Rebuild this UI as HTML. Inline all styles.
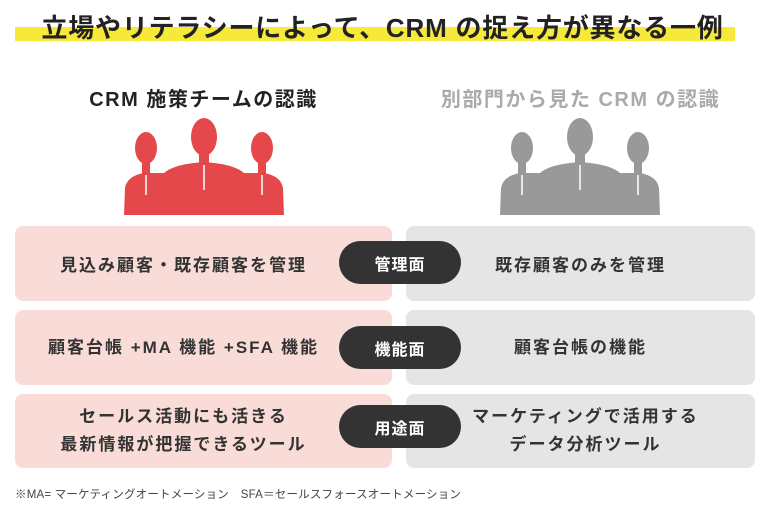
<!DOCTYPE html>
<html><head><meta charset="utf-8"><style>
body{margin:0;width:771px;height:507px;background:#fff;position:relative;overflow:hidden;font-family:"Liberation Sans","Noto Sans CJK JP",sans-serif;color:#333}
.a{position:absolute}
.box{position:absolute;border-radius:8px;display:flex;align-items:center;justify-content:center;text-align:center;font-weight:bold;font-size:17px;line-height:28px;letter-spacing:2px}
.l{left:15px;width:377px;background:#f9dcd7}
.r{left:406px;width:349px;background:#e5e5e5}
.pill{position:absolute;left:339px;width:122px;height:43px;border-radius:22px;background:#333;color:#fff;font-weight:bold;font-size:16px;display:flex;align-items:center;justify-content:center;letter-spacing:1px}
</style></head><body>
<div class="a" style="left:15px;top:27px;width:720px;height:14px;background:#f6e93a"></div>
<div class="a" style="left:0;width:765px;top:11px;text-align:center;font-size:26px;font-weight:bold;color:#222;line-height:34px;letter-spacing:0.8px">立場やリテラシーによって、CRM の捉え方が異なる一例</div>
<div class="a" style="left:15px;width:377px;top:83px;text-align:center;font-size:20px;font-weight:bold;color:#222;letter-spacing:1.5px">CRM 施策チームの認識</div>
<div class="a" style="left:406px;width:349px;top:83px;text-align:center;font-size:20px;font-weight:bold;color:#aaa;letter-spacing:1.5px">別部門から見た CRM の認識</div>
<svg class="a" style="left:0;top:0" width="771" height="230">
<defs><g id="p">
<ellipse cx="22" cy="30" rx="11" ry="16"/><ellipse cx="138" cy="30" rx="11" ry="16"/><ellipse cx="80" cy="19" rx="13" ry="19"/>
<rect x="18" y="40" width="8" height="20"/><rect x="134" y="40" width="8" height="20"/><rect x="75" y="30" width="10" height="25"/>
<path d="M0,97 L1,70 Q3,58 20,55 L40,55 Q50,46 80,44 Q110,46 120,55 L140,55 Q157,58 159,70 L160,97 Z"/>
</g></defs>
<g fill="#e5484a" transform="translate(124,118)"><use href="#p"/></g>
<g fill="#999" transform="translate(500,118)"><use href="#p"/></g>
<g stroke="#fff" stroke-width="1.5"><line x1="146" y1="175" x2="146" y2="195"/><line x1="204" y1="165" x2="204" y2="190"/><line x1="262" y1="175" x2="262" y2="195"/>
<line x1="522" y1="175" x2="522" y2="195"/><line x1="580" y1="165" x2="580" y2="190"/><line x1="638" y1="175" x2="638" y2="195"/></g>
</svg>
<div class="box l" style="top:226px;height:75px;padding-right:40px;padding-top:4px;box-sizing:border-box">見込み顧客・既存顧客を管理</div>
<div class="box r" style="top:226px;height:75px;padding-top:4px;box-sizing:border-box">既存顧客のみを管理</div>
<div class="pill" style="top:241px">管理面</div>
<div class="box l" style="top:310px;height:75px;padding-right:40px;box-sizing:border-box">顧客台帳 +MA 機能 +SFA 機能</div>
<div class="box r" style="top:310px;height:75px">顧客台帳の機能</div>
<div class="pill" style="top:326px">機能面</div>
<div class="box l" style="top:394px;height:74px;padding-right:40px;box-sizing:border-box">セールス活動にも活きる<br>最新情報が把握できるツール</div>
<div class="box r" style="top:394px;height:74px;padding-left:10px;box-sizing:border-box">マーケティングで活用する<br>データ分析ツール</div>
<div class="pill" style="top:405px">用途面</div>
<div class="a" style="left:15px;top:486px;font-size:11.5px;color:#444;letter-spacing:0.2px">※MA= マーケティングオートメーション　SFA＝セールスフォースオートメーション</div>
</body></html>
